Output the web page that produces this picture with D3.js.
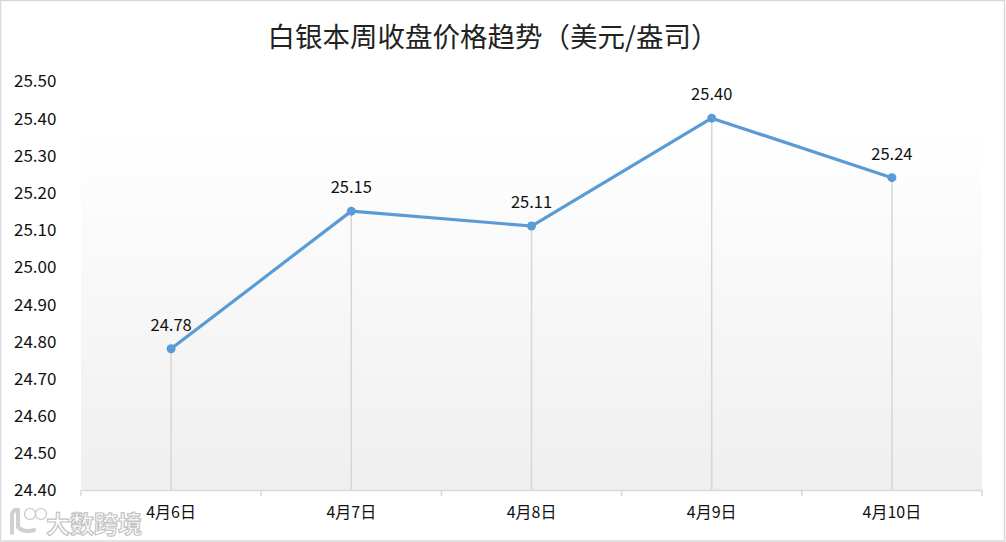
<!DOCTYPE html>
<html><head><meta charset="utf-8">
<script src="https://cdn.jsdelivr.net/npm/d3@7/dist/d3.min.js"></script>
<style>body{margin:0;background:#fff}svg{display:block}</style>
</head><body>
<svg id="c" width="1006" height="542"></svg>
<script>
const categories = ["4月6日","4月7日","4月8日","4月9日","4月10日"];
const values = [24.78, 25.15, 25.11, 25.40, 25.24];
const yTicks = [24.40,24.50,24.60,24.70,24.80,24.90,25.00,25.10,25.20,25.30,25.40,25.50];
const title = "白银本周收盘价格趋势（美元/盎司）";

const svg = d3.select("#c");
const W = 1006, H = 542;
const m = {l:81, r:982, t:81, b:490};
const font = "'Noto Sans CJK SC','Noto Sans',sans-serif";

svg.append("rect").attr("x",0.5).attr("y",0.5).attr("width",W-2).attr("height",H-1.5)
  .attr("fill","#fff").attr("stroke","#d9d9d9").attr("stroke-width",1.5);

const defs = svg.append("defs");
const g = defs.append("linearGradient").attr("id","bg").attr("x1",0).attr("y1",0).attr("x2",0).attr("y2",1);
g.append("stop").attr("offset","0%").attr("stop-color","#ffffff");
g.append("stop").attr("offset","100%").attr("stop-color","#efefef");

const x = d3.scaleBand().domain(categories).range([m.l, m.r]);
const y = d3.scaleLinear().domain([24.40, 25.50]).range([m.b, m.t]);

svg.append("rect").attr("x",m.l).attr("y",128).attr("width",m.r-m.l).attr("height",m.b-128)
  .attr("fill","url(#bg)");

// title
svg.append("text").attr("x",493).attr("y",47).attr("text-anchor","middle")
  .attr("font-family",font).attr("font-size",27.5).attr("fill","#222").text(title);

// y axis labels
const ya = svg.append("g").attr("transform",`translate(14,0)`)
  .call(d3.axisLeft(y).tickValues(yTicks).tickFormat(d3.format(".2f")).tickSize(0));
ya.select(".domain").remove();
ya.selectAll("text").attr("text-anchor","start").attr("x",0).attr("dy","0.35em")
  .attr("font-family",font).attr("font-size",17).attr("fill","#111");

// drop lines
svg.append("g").selectAll("line").data(values).join("line")
  .attr("x1",(d,i)=>x(categories[i])+x.bandwidth()/2)
  .attr("x2",(d,i)=>x(categories[i])+x.bandwidth()/2)
  .attr("y1",d=>y(d)).attr("y2",m.b)
  .attr("stroke","#d6d6d6").attr("stroke-width",1.5);

// x axis
const xa = svg.append("g").attr("transform",`translate(0,${m.b})`)
  .call(d3.axisBottom(x).tickSize(0).tickPadding(17));
xa.select(".domain").attr("stroke","#d9d9d9").attr("stroke-width",1.5);
xa.selectAll("text").attr("font-family",font).attr("font-size",16).attr("fill","#111");
const bounds = categories.map(c=>x(c)).concat([m.r]);
svg.append("g").selectAll("line").data(bounds).join("line")
  .attr("x1",d=>d).attr("x2",d=>d).attr("y1",m.b).attr("y2",m.b+6)
  .attr("stroke","#d9d9d9").attr("stroke-width",1.5);

// line
const line = d3.line().x((d,i)=>x(categories[i])+x.bandwidth()/2).y(d=>y(d));
svg.append("path").datum(values).attr("d",line).attr("fill","none")
  .attr("stroke","#5b9bd5").attr("stroke-width",3.2).attr("stroke-linejoin","round");
svg.append("g").selectAll("circle").data(values).join("circle")
  .attr("cx",(d,i)=>x(categories[i])+x.bandwidth()/2).attr("cy",d=>y(d)).attr("r",4.5)
  .attr("fill","#5b9bd5");
svg.append("g").selectAll("text").data(values).join("text")
  .attr("x",(d,i)=>x(categories[i])+x.bandwidth()/2).attr("y",d=>y(d)-18)
  .attr("text-anchor","middle").attr("font-family",font).attr("font-size",16.5).attr("fill","#111")
  .text(d=>d3.format(".2f")(d));

// watermark
const wm = svg.append("g").attr("fill","#fff").attr("stroke","#c4c4c4").attr("stroke-width",1.2);
wm.append("path").attr("d","M12,533 L12,514 Q14,509 18,510 L18,527 Q24,533 34,530")
  .attr("fill","none").attr("stroke","#d0d0d0").attr("stroke-width",4).attr("stroke-linecap","round");
wm.append("circle").attr("cx",30).attr("cy",514).attr("r",5.5);
wm.append("circle").attr("cx",41).attr("cy",514).attr("r",5.5);
wm.append("text").attr("x",46).attr("y",533).attr("font-family",font).attr("font-size",24)
  .attr("font-weight","bold").text("大数跨境");
</script>
</body></html>
